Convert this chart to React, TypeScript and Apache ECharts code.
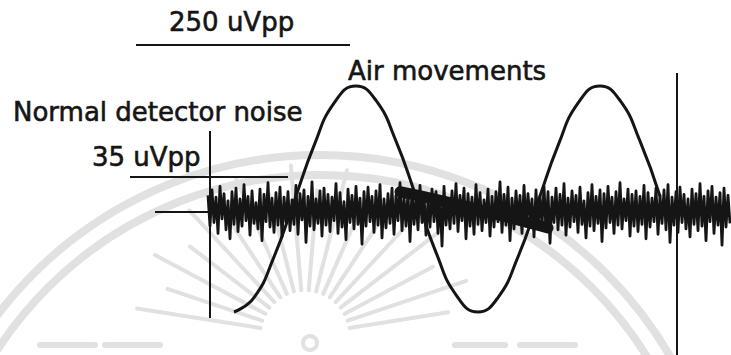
import React, { useEffect, useRef } from "react";
import * as echarts from "echarts";

// x: sample index (noise sampled every step), y: microvolts (uV)
const noiseValues: number[] = [
  4, -30, 10, -26, 2, -38, 14, -22, 6, -34, -2, -44, 8, -28, 12, -36, 0, -30, 16, -24,
  3, -40, 9, -27, -4, -33, 11, -46, 5, -25, 18, -31, 1, -37, 7, -29, 13, -42, 2, -26,
  8, -35, -1, -28, 15, -39, 6, -23, 10, -48, 3, -30, 19, -34, 0, -27, 9, -41, 12, -29,
  5, -36, 2, -24, 17, -38, 7, -31, -3, -45, 11, -26, 4, -33, 14, -28, 1, -50, 8, -30,
  13, -25, 3, -37, 9, -29, 16, -43, 0, -32, 6, -27, 12, -39, 4, -24, 18, -35, 2, -30,
  7, -47, 10, -28, 1, -34, 15, -26, 5, -40, -2, -31, 11, -25, 8, -38, 3, -52, 14, -29,
  0, -33, 9, -27, 17, -36, 4, -24, 12, -44, 6, -30, 2, -39, 16, -28, 7, -35, -1, -26,
  11, -41, 3, -31, 8, -25, 19, -37, 5, -29, 13, -46, 1, -33, 9, -27, 4, -38, 15, -30,
  6, -24, 0, -42, 10, -32, 3, -28, 14, -36, 8, -49, 2, -26, 12, -34, 5, -29, 17, -40,
  1, -31, 9, -25, 4, -37, 13, -28, -2, -43, 7, -30, 16, -35, 3, -27, 10, -47, 6, -32,
  14, -26, 2, -38, 8, -29, 18, -33, 0, -24, 11, -41, 5, -30, 9, -36, 3, -28, 15, -44,
  7, -31, 1, -25, 12, -39, 4, -27, 10, -34, 16, -48, 2, -29, 8, -37, 13, -26, 5, -33,
  0, -42, 11, -28, 6, -35, 17, -30, 3, -46, 9, -25, 14, -38, 2, -29, 7, -51, 12, -31, 4, -27,
];

const sineT: number[] = [13, 23, 33, 43, 53, 63, 74, 84, 94, 104, 114, 124, 135, 145, 155, 165, 175, 185, 196, 206, 216, 226];
const sineV: number[] = [-125, -109, -64, -3, 59, 106, 125, 109, 64, 3, -59, -106, -125, -109, -64, -3, 59, 106, 125, 109, 64, 3];

const driftT: number[] = [96, 121, 146, 170];
const driftV: number[] = [8, -4, -18, -32];

const labels = {
  big: "250 uVpp",
  air: "Air movements",
  normal: "Normal detector noise",
  small: "35 uVpp",
};

const INK = "#151515";
const WM = "#e1e1e1";
const FONT = "DejaVu Sans";

function buildWatermark(): any[] {
  const els: any[] = [];
  els.push({
    type: "arc", z: 0, silent: true,
    shape: { cx: 320, cy: 560, r: 405, startAngle: Math.PI, endAngle: 2 * Math.PI },
    style: { stroke: WM, lineWidth: 8, fill: null },
  });
  els.push({
    type: "arc", z: 0, silent: true,
    shape: { cx: 320, cy: 560, r: 385, startAngle: Math.PI, endAngle: 2 * Math.PI },
    style: { stroke: WM, lineWidth: 8, fill: null },
  });
  const cx = 305, cy = 335;
  for (let k = 0; k < 18; k++) {
    const a = Math.PI * (1.05 + (0.9 * k) / 17);
    const r0 = 45;
    const r1 = k % 2 === 0 ? 170 : 145;
    els.push({
      type: "line", z: 0, silent: true,
      shape: { x1: cx + r0 * Math.cos(a), y1: cy + r0 * Math.sin(a), x2: cx + r1 * Math.cos(a), y2: cy + r1 * Math.sin(a) },
      style: { stroke: WM, lineWidth: 4, lineCap: "round" },
    });
  }
  els.push({ type: "circle", z: 0, silent: true, shape: { cx: 310, cy: 343, r: 7 }, style: { stroke: WM, lineWidth: 4, fill: null } });
  const dashes = [[40, 95], [105, 160], [455, 505], [520, 575]];
  dashes.forEach(([a, b]) =>
    els.push({ type: "line", z: 0, silent: true, shape: { x1: a, y1: 345, x2: b, y2: 345 }, style: { stroke: WM, lineWidth: 6, lineCap: "round" } })
  );
  return els;
}

function buildAnnotations(): any[] {
  const txt = (text: string, x: number, y: number) => ({
    type: "text", z: 100, silent: true, x, y,
    style: {
      text, fill: INK, stroke: INK, lineWidth: 0.6,
      font: `26px "${FONT}"`, fontFamily: FONT, fontSize: 26, align: "left", verticalAlign: "middle",
    },
  });
  const ln = (x1: number, y1: number, x2: number, y2: number, w = 2) => ({
    type: "line", z: 100, silent: true, shape: { x1, y1, x2, y2 }, style: { stroke: INK, lineWidth: w },
  });
  return [
    txt(labels.big, 169, 22),
    txt(labels.air, 348, 71),
    txt(labels.normal, 13, 112),
    txt(labels.small, 92, 157),
    ln(136, 45, 350, 45, 2),
    ln(130, 177, 288, 177, 2),
    ln(210, 131, 210, 318, 2),
    ln(155, 212, 209, 212, 2),
    ln(677, 73, 677, 355, 2),
  ];
}

export default function App() {
  const ref = useRef<HTMLDivElement>(null);
  useEffect(() => {
    if (!ref.current) return;
    const chart = echarts.init(ref.current, null, { renderer: "svg" });
    const pxPerUv = 0.904;
    chart.setOption({
      animation: false,
      backgroundColor: "#ffffff",
      grid: { left: 0, right: 0, top: 0, bottom: 0, containLabel: false },
      xAxis: { type: "value", min: -104, max: 261.5, show: false },
      yAxis: { type: "value", min: -(355 - 199) / pxPerUv, max: 199 / pxPerUv, show: false },
      graphic: [...buildWatermark(), ...buildAnnotations()],
      series: [
        {
          name: "drift", type: "line", symbol: "none", smooth: true, z: 4,
          data: driftT.map((t, i) => [t, driftV[i]]),
          lineStyle: { color: INK, width: 11, cap: "round" },
        },
        {
          name: "noise", type: "line", symbol: "none", z: 5,
          data: noiseValues.map((v, i) => [i, v]),
          lineStyle: { color: INK, width: 2.8, join: "round" },
        },
        {
          name: "air", type: "line", symbol: "none", smooth: true, z: 7,
          data: sineT.map((t, i) => [t, sineV[i]]),
          lineStyle: { color: INK, width: 3 },
        },
      ],
    });
    return () => chart.dispose();
  }, []);
  return (
    <div
      ref={ref}
      style={{ position: "absolute", left: 0, top: 0, width: 731, height: 355, background: "#fff" }}
    />
  );
}
